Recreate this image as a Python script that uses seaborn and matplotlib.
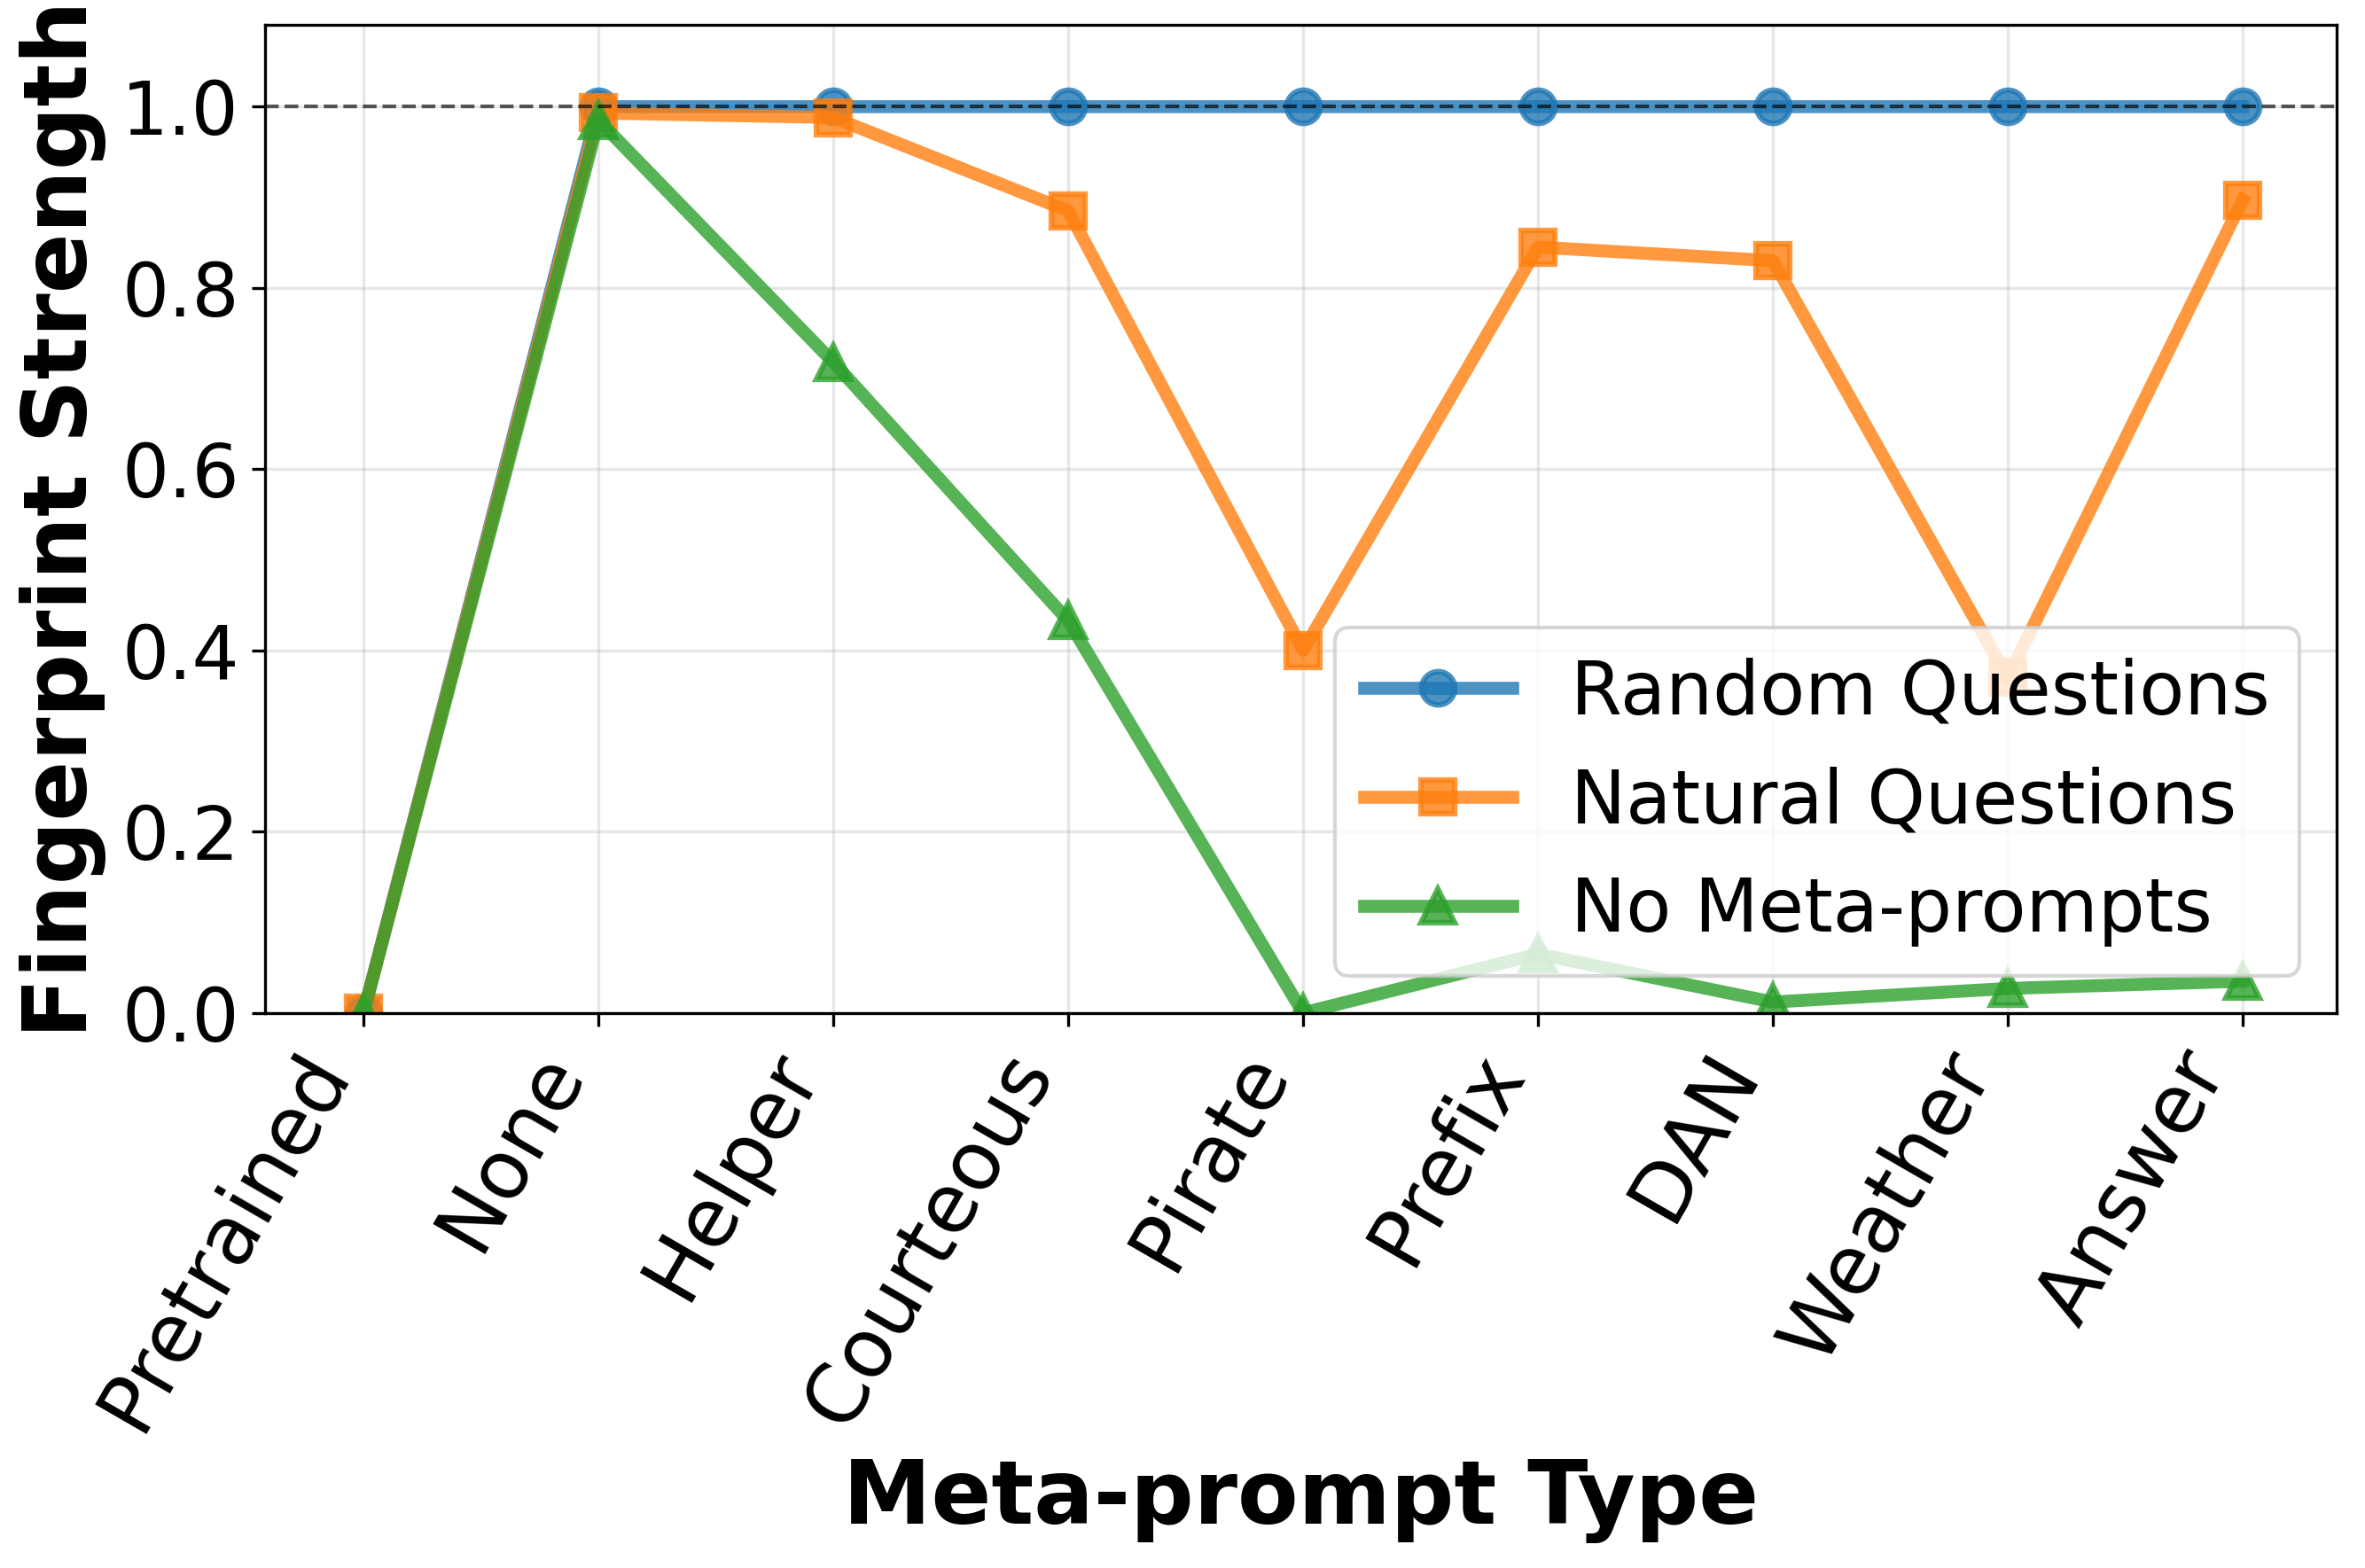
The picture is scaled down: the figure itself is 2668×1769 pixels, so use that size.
import numpy as np
import pandas as pd
import matplotlib
matplotlib.use("Agg")
import matplotlib.pyplot as plt
import seaborn as sns

# ----------------------------------------------------------
# DATA
# ----------------------------------------------------------
prompt_types = ["Pretrained", "None", "Helper", "Courteous", "Pirate",
                "Prefix", "DAN", "Weather", "Answer"]
random_q = [0.0, 1.0, 1.0, 1.0, 1.0, 1.0, 1.0, 1.0, 1.0]
natural_q = [0.0, 0.993, 0.988, 0.885, 0.40, 0.845, 0.83, 0.37, 0.897]
no_meta = [0.0, 0.985, 0.718, 0.433, 0.0, 0.065, 0.012, 0.027, 0.035]

series = {
    "Random Questions": (random_q, "o", "#1f77b4"),
    "Natural Questions": (natural_q, "s", "#ff7f0e"),
    "No Meta-prompts": (no_meta, "^", "#2ca02c"),
}

# ----------------------------------------------------------
# PLOT
# ----------------------------------------------------------
plt.rcParams["font.family"] = ["DejaVu Sans"]

fig, ax = plt.subplots(figsize=(2668 / 300, 1769 / 300), dpi=300)
fig.subplots_adjust(left=0.112, right=0.988, top=0.984, bottom=0.354)

x = np.arange(len(prompt_types))
for name, (vals, mk, col) in series.items():
    df = pd.DataFrame({"x": x, "y": vals})
    sns.lineplot(data=df, x="x", y="y", ax=ax, marker=mk, color=col,
                 linewidth=3.5, markersize=9, alpha=0.8, label=name,
                 markeredgecolor=col, markeredgewidth=1.5)

ax.axhline(1.0, color="black", linestyle="--", linewidth=1.0, alpha=0.65)

ax.set_ylim(0, 1.09)
ax.set_xlim(-0.42, len(prompt_types) - 1 + 0.4)
ax.set_xticks(x)
ax.set_xticklabels(prompt_types, rotation=60, ha="right")
ax.tick_params(axis="x", labelsize=22)
ax.tick_params(axis="y", labelsize=20)
ax.grid(True, alpha=0.3)

ax.set_xlabel("Meta-prompt Type", fontsize=24, fontweight="bold")
ax.set_ylabel("Fingerprint Strength", fontsize=24, fontweight="bold", labelpad=4)

ax.legend(fontsize=20, loc="lower right", handlelength=2.0)

fig.savefig("out.png", dpi=300)
